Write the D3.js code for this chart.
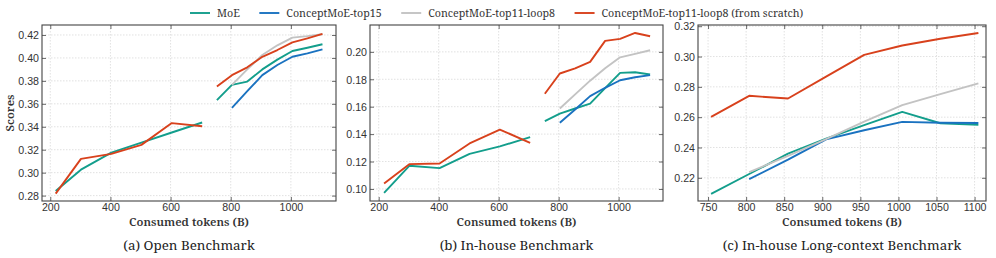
<!DOCTYPE html>
<html>
<head>
<meta charset="utf-8">
<script src="https://cdn.jsdelivr.net/npm/d3@7"></script>
<style>
  html, body { margin: 0; padding: 0; background: #fff; }
  svg { display: block; font-family: "Noto Serif", "Liberation Serif", serif; }
</style>
</head>
<body>
<svg id="chart" width="996" height="258"></svg>
<script>
// x positions (consumed tokens, B)
const X1 = [218, 302, 403, 503, 604, 705];
const X2 = [754, 804, 855, 905, 955, 1005, 1055, 1105];

const SERIES = [
  { key: 'moe',     name: 'MoE',                                   color: '#139e8c' },
  { key: 'top15',   name: 'ConceptMoE-top15',                      color: '#1a72c0' },
  { key: 'loop8',   name: 'ConceptMoE-top11-loop8',                color: '#c3c3c3' },
  { key: 'scratch', name: 'ConceptMoE-top11-loop8 (from scratch)', color: '#d8411c' },
];

// (a) Open Benchmark
const moeA1     = [0.284, 0.3026, 0.3174, 0.3262, 0.335, 0.3437];
const scratchA1 = [0.2817, 0.312, 0.3164, 0.3242, 0.3432, 0.3404];
const moeA2     = [0.3632, 0.3765, 0.3794, 0.390, 0.3985, 0.406, 0.4089, 0.4119];
const top15A    = [null, 0.3565, 0.371, 0.385, 0.3938, 0.401, 0.404, 0.4075];
const loop8A    = [null, 0.3765, 0.39, 0.4025, 0.411, 0.4177, 0.419, 0.4206];
const scratchA2 = [0.375, 0.385, 0.3918, 0.401, 0.4069, 0.4136, 0.4171, 0.4209];

// (b) In-house Benchmark
const moeB1     = [0.0971, 0.1169, 0.1152, 0.1256, 0.131, 0.1378];
const scratchB1 = [0.1039, 0.1181, 0.1186, 0.1332, 0.1433, 0.1336];
const moeB2     = [0.1495, 0.1549, 0.1587, 0.1623, 0.1735, 0.1847, 0.1851, 0.1835];
const top15B    = [null, 0.1483, 0.158, 0.1677, 0.1738, 0.1793, 0.1815, 0.183];
const loop8B    = [null, 0.1587, 0.169, 0.179, 0.188, 0.196, 0.1985, 0.2012];
const scratchB2 = [0.1694, 0.1842, 0.188, 0.1927, 0.208, 0.2095, 0.2138, 0.2114];

// (c) In-house Long-context Benchmark
const moeC     = [0.2094, 0.2225, 0.2359, 0.2459, 0.2547, 0.2635, 0.256, 0.2549];
const top15C   = [null, 0.2191, 0.232, 0.2454, 0.2514, 0.2569, 0.2563, 0.2562];
const loop8C   = [null, 0.2237, 0.2345, 0.2455, 0.257, 0.268, 0.2752, 0.2823];
const scratchC = [0.2602, 0.2741, 0.2723, 0.2867, 0.3011, 0.3073, 0.3117, 0.3155];

const xTicksAB = [200, 400, 600, 800, 1000];
const xTicksC  = [750, 800, 850, 900, 950, 1000, 1050, 1100];
const yTicksA  = [0.28, 0.30, 0.32, 0.34, 0.36, 0.38, 0.40, 0.42];
const yTicksB  = [0.10, 0.12, 0.14, 0.16, 0.18, 0.20];
const yTicksC  = [0.22, 0.24, 0.26, 0.28, 0.30, 0.32];

const PANELS = [
  { title: '(a) Open Benchmark', x0: 42, x1: 336, xd: [172.5, 1150], yd: [0.2753, 0.4287],
    xt: xTicksAB, yt: yTicksA, ylabel: 'Scores',
    lines: [['moe', X1, moeA1], ['scratch', X1, scratchA1],
            ['moe', X2, moeA2], ['top15', X2, top15A], ['loop8', X2, loop8A], ['scratch', X2, scratchA2]] },
  { title: '(b) In-house Benchmark', x0: 370, x1: 663, xd: [171, 1148], yd: [0.0912, 0.2196],
    xt: xTicksAB, yt: yTicksB,
    lines: [['moe', X1, moeB1], ['scratch', X1, scratchB1],
            ['moe', X2, moeB2], ['top15', X2, top15B], ['loop8', X2, loop8B], ['scratch', X2, scratchB2]] },
  { title: '(c) In-house Long-context Benchmark', x0: 698, x1: 986, xd: [736.8, 1115], yd: [0.2047, 0.3208],
    xt: xTicksC, yt: yTicksC,
    lines: [['moe', X2, moeC], ['top15', X2, top15C], ['loop8', X2, loop8C], ['scratch', X2, scratchC]] },
];

const TOP = 25, BOT = 201;
const col = Object.fromEntries(SERIES.map(s => [s.key, s.color]));
const order = { moe: 0, top15: 1, loop8: 2, scratch: 3 };

const svg = d3.select('#chart');

// pick a font size so a sample string comes out at the width seen in the picture
function fit(sample, width, weight) {
  const t = svg.append('text').attr('font-size', 10).attr('font-weight', weight || 'normal').text(sample);
  const w = t.node().getComputedTextLength() || width;
  t.remove();
  return 10 * width / w;
}
const FS_TICK  = fit('0.42', 20.5);
const FS_LABEL = fit('Consumed tokens (B)', 120, 600);
const FS_TITLE = fit('(a) Open Benchmark', 131.5);
const FS_LEG   = fit('ConceptMoE-top11-loop8', 127);

PANELS.forEach(p => {
  const x = d3.scaleLinear().domain(p.xd).range([p.x0, p.x1]);
  const y = d3.scaleLinear().domain(p.yd).range([BOT, TOP]);
  const g = svg.append('g');

  // grid
  g.append('g').selectAll('line').data(p.xt).join('line')
    .attr('x1', d => x(d)).attr('x2', d => x(d)).attr('y1', TOP).attr('y2', BOT)
    .attr('stroke', '#d9d9d9').attr('stroke-width', 0.8).attr('stroke-dasharray', '1.5,1.5');
  g.append('g').selectAll('line').data(p.yt).join('line')
    .attr('y1', d => y(d)).attr('y2', d => y(d)).attr('x1', p.x0).attr('x2', p.x1)
    .attr('stroke', '#d9d9d9').attr('stroke-width', 0.8).attr('stroke-dasharray', '1.5,1.5');

  // lines
  const line = d3.line().defined(d => d[1] != null).x(d => x(d[0])).y(d => y(d[1]));
  const segs = p.lines.slice().sort((a, b) => order[a[0]] - order[b[0]]);
  segs.forEach(([k, xs, vs]) => {
    g.append('path').datum(xs.map((v, i) => [v, vs[i]]))
      .attr('d', line).attr('fill', 'none').attr('stroke', col[k])
      .attr('stroke-width', 1.9).attr('stroke-linejoin', 'round');
  });

  // axes, ticks pointing inward on all four sides
  const bottom = g.append('g').attr('transform', `translate(0,${BOT})`)
    .call(d3.axisBottom(x).tickValues(p.xt).tickSize(-4).tickPadding(3).tickFormat(d3.format('d')));
  const left = g.append('g').attr('transform', `translate(${p.x0},0)`)
    .call(d3.axisLeft(y).tickValues(p.yt).tickSize(-4).tickPadding(3).tickFormat(d3.format('.2f')));
  const top = g.append('g').attr('transform', `translate(0,${TOP})`)
    .call(d3.axisTop(x).tickValues(p.xt).tickSize(-4).tickFormat(''));
  const right = g.append('g').attr('transform', `translate(${p.x1},0)`)
    .call(d3.axisRight(y).tickValues(p.yt).tickSize(-4).tickFormat(''));
  [bottom, left, top, right].forEach(a => {
    a.select('.domain').remove();
    a.selectAll('line').attr('stroke', '#444').attr('stroke-width', 0.8);
    a.selectAll('text').attr('font-family', null).attr('font-size', FS_TICK).attr('fill', '#333');
  });
  bottom.selectAll('text').attr('dy', '0.68em');
  left.selectAll('text').attr('dy', '0.35em');

  g.append('rect').attr('x', p.x0).attr('y', TOP).attr('width', p.x1 - p.x0).attr('height', BOT - TOP)
    .attr('fill', 'none').attr('stroke', '#444').attr('stroke-width', 1.1);

  const cx = (p.x0 + p.x1) / 2;
  g.append('text').attr('x', cx).attr('y', 226).attr('text-anchor', 'middle')
    .attr('font-size', FS_LABEL).attr('font-weight', 600).attr('fill', '#333').text('Consumed tokens (B)');
  g.append('text').attr('x', cx).attr('y', 249.5).attr('text-anchor', 'middle')
    .attr('font-size', FS_TITLE).attr('fill', '#222').text(p.title);
  if (p.ylabel) {
    g.append('text').attr('transform', `translate(14,${(TOP + BOT) / 2}) rotate(-90)`)
      .attr('text-anchor', 'middle').attr('font-size', FS_LABEL).attr('font-weight', 600).attr('fill', '#333')
      .text(p.ylabel);
  }
});

// legend
const lg = svg.append('g').attr('transform', 'translate(190,13)');
let lx = 0;
SERIES.forEach(s => {
  lg.append('line').attr('x1', lx).attr('x2', lx + 20).attr('y1', 0).attr('y2', 0)
    .attr('stroke', s.color).attr('stroke-width', 1.9);
  const t = lg.append('text').attr('x', lx + 27).attr('y', 3.5).attr('font-size', FS_LEG)
    .attr('fill', '#333').text(s.name);
  lx += 27 + t.node().getComputedTextLength() + 19.5;
});
</script>
</body>
</html>
